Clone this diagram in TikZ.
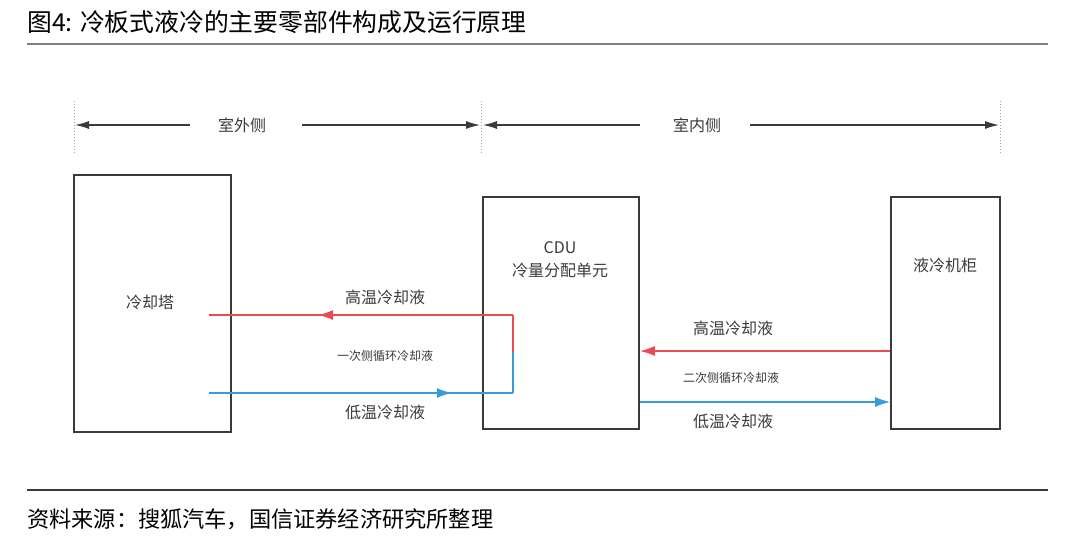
\documentclass[tikz,border=0pt]{standalone}
\usepackage{fontspec}
\setmainfont{Noto Sans CJK SC}
\usetikzlibrary{arrows.meta}
\definecolor{hot}{HTML}{EC4A52}
\definecolor{cold}{HTML}{3A9BDA}
\definecolor{ink}{HTML}{3A3A3A}

\begin{document}
\begin{tikzpicture}[x=1pt,y=-1pt,
  unit/.style={draw=ink,line width=1.6pt,rectangle,inner sep=0pt},
  lbl/.style={text=ink,font=\fontsize{16}{18}\selectfont,inner sep=0pt},
  small/.style={text=ink,font=\fontsize{12}{14}\selectfont,inner sep=0pt},
  bound/.style={draw=gray!70,dotted,line width=1pt},
  span/.style={draw=ink,line width=1.2pt,-{Latex[length=14pt,width=8pt]}},
  flow/.style={line width=1.6pt,-{Latex[length=15pt,width=10pt]}}]
\useasboundingbox (0,0) rectangle (1080,546);
% title and rules
\node[anchor=west,inner sep=0pt,font=\fontsize{24.8}{28}\selectfont] (title) at (27,22) {图4: 冷板式液冷的主要零部件构成及运行原理};
\draw[gray,line width=2pt] (27,44)--(1048,44);
\draw[ink,line width=1.6pt] (27,490)--(1048,490);
\node[anchor=west,inner sep=0pt,font=\fontsize{22.2}{26}\selectfont] (source) at (27,519) {资料来源：搜狐汽车，国信证券经济研究所整理};
% outdoor / indoor
\coordinate (b1) at (74,125);
\coordinate (b2) at (481,125);
\coordinate (b3) at (1000,125);
\foreach \p in {b1,b2,b3} \draw[bound] ([yshift=-28pt]\p)--([yshift=25pt]\p);
\node[lbl] (outside) at (242,125) {室外侧};
\node[lbl] (inside) at (697,125) {室内侧};
\draw[span] (190,125)--([xshift=1pt]b1);
\draw[span] (302,125)--([xshift=-1pt]b2);
\draw[span] (640,125)--([xshift=2pt]b2);
\draw[span] (750,125)--([xshift=-1pt]b3);
% units
\node[unit,minimum width=157pt,minimum height=257pt] (tower) at (152.5,303.5) {};
\node[lbl] at (150,302) {冷却塔};
\node[unit,minimum width=156pt,minimum height=232pt] (cdu) at (561,313) {};
\node[lbl] (cduname) at (560,248) {CDU};
\node[lbl] at (560,270) {冷量分配单元};
\node[unit,minimum width=109pt,minimum height=232pt] (rack) at (945.5,313) {};
\node[lbl] at (945,265) {液冷机柜};
% primary loop
\coordinate (p1) at (209,315);
\coordinate (p2) at (513,315);
\coordinate (p3) at (513,352);
\coordinate (p4) at (513,393);
\coordinate (p5) at (209,393);
\draw[hot,line width=1.6pt] (p2)--(p1);
\draw[hot,flow] (p2)--(318,315);
\draw[hot,line width=1.2pt] (p2)--(p3);
\draw[cold,line width=1.2pt] (p3)--(p4);
\draw[cold,line width=1.6pt] (p4)--(p5);
\draw[cold,flow] (p5)--(452,393);
\node[lbl] at (385,297) {高温冷却液};
\node[small] at (385,356) {一次侧循环冷却液};
\node[lbl] at (385,412) {低温冷却液};
% secondary loop
\draw[hot,flow] (rack.west|-0,351)--(cdu.east|-0,351);
\draw[cold,flow] (cdu.east|-0,402)--(rack.west|-0,402);
\node[lbl] at (733,328) {高温冷却液};
\node[small] at (731,378) {二次侧循环冷却液};
\node[lbl] at (733,421) {低温冷却液};
\end{tikzpicture}
\end{document}
